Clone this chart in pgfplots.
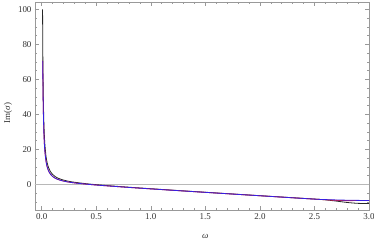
\documentclass[border=0pt]{standalone}
\usepackage{fontspec}
\setmainfont{Liberation Serif}
\usepackage{pgfplots}
\pgfplotsset{compat=1.18}
\usetikzlibrary{calc}
\definecolor{frm}{gray}{0.6}
\definecolor{zl}{gray}{0.72}
\definecolor{bl}{RGB}{55,30,225}
\definecolor{rd}{RGB}{230,30,40}
\definecolor{bk}{gray}{0.15}
\begin{document}
\begin{tikzpicture}
\begin{axis}[
  scale only axis, width=334bp, height=208bp,
  xmin=-0.061, xmax=3.0, ymin=-14.7, ymax=104.2,
  xtick={0,0.5,1.0,1.5,2.0,2.5,3.0},
  xticklabels={0.0,0.5,1.0,1.5,2.0,2.5,3.0},
  minor xtick={0,0.1,0.2,0.3,0.4,0.6,0.7,0.8,0.9,1.1,1.2,1.3,1.4,1.6,1.7,1.8,1.9,2.1,2.2,2.3,2.4,2.6,2.7,2.8,2.9},
  ytick={0,20,40,60,80,100},
  minor ytick={-10,-5,5,10,15,25,30,35,45,50,55,65,70,75,85,90,95},
  tick align=inside, major tick length=4bp, minor tick length=2bp,
  axis line style={frm, line width=0.6pt},
  every tick/.style={frm, line width=0.5pt},
  tick label style={font=\fontsize{9}{10}\selectfont, text=black!80},
  /pgf/number format/assume math mode=true,
  xlabel={\textit{ω}},
  ylabel={Im(\textit{σ})},
  label style={font=\fontsize{9}{10}\selectfont, text=black!80},
  xlabel style={at={(axis description cs:0.51,-0.125)}, anchor=center},
  ylabel style={at={(axis description cs:-0.081,0.466)}, anchor=center},
  clip=true,
]
\coordinate (sw) at (rel axis cs:0,0);
\coordinate (ne) at (rel axis cs:1,1);
\addplot[zl, line width=1.3pt, forget plot] coordinates {(-0.1,0) (3.1,0)};
\addplot[bk, line width=0.8pt, smooth] coordinates {
(0.0084,100.0) (0.01,81.2) (0.012,65.5) (0.015,50.3) (0.02,35.9) (0.025,27.7)
(0.03,22.3) (0.04,16.0) (0.05,12.4) (0.06,10.1) (0.08,7.28) (0.1,5.64)
(0.125,4.36) (0.15,3.50) (0.2,2.40) (0.25,1.69) (0.3,1.17) (0.4,0.39)
(0.5,-0.22) (0.6,-0.74) (0.8,-1.67) (1.0,-2.53) (1.25,-3.56) (1.5,-4.55)
(2.0,-6.51) (2.5,-8.44) (2.6,-8.9) (2.7,-9.6) (2.8,-10.4) (2.9,-10.9) (3.0,-11.0)};
\addplot[rd, line width=0.8pt, smooth] coordinates {
(0.01,70.5) (0.012,56.3) (0.015,42.8) (0.02,30.1) (0.025,23.0) (0.03,18.5)
(0.04,13.1) (0.05,10.06) (0.06,8.13) (0.08,5.82) (0.1,4.48) (0.125,3.43)
(0.15,2.74) (0.2,1.83) (0.25,1.24) (0.3,0.80) (0.4,0.12) (0.5,-0.43)
(0.6,-0.91) (0.8,-1.80) (1.0,-2.63) (1.25,-3.63) (1.5,-4.62) (2.0,-6.56)
(2.5,-8.48) (2.6,-8.85) (2.7,-9.2) (2.8,-9.35) (2.9,-9.3) (3.0,-9.3)};
\addplot[bl, line width=0.8pt, smooth] coordinates {
(0.01,70.5) (0.012,56.3) (0.015,42.8) (0.02,30.1) (0.025,23.0) (0.03,18.5)
(0.04,13.1) (0.05,10.06) (0.06,8.13) (0.08,5.82) (0.1,4.48) (0.125,3.43)
(0.15,2.74) (0.2,1.83) (0.25,1.24) (0.3,0.80) (0.4,0.12) (0.5,-0.43)
(0.6,-0.91) (0.8,-1.80) (1.0,-2.63) (1.25,-3.63) (1.5,-4.62) (2.0,-6.56)
(2.5,-8.48) (2.6,-8.75) (2.7,-8.95) (2.8,-9.1) (2.9,-9.2) (3.0,-9.3)};
\end{axis}
\pgfresetboundingbox
\path ($(sw)+(-35bp,-32bp)$) rectangle ($(ne)+(5bp,2bp)$);
\end{tikzpicture}
\end{document}
